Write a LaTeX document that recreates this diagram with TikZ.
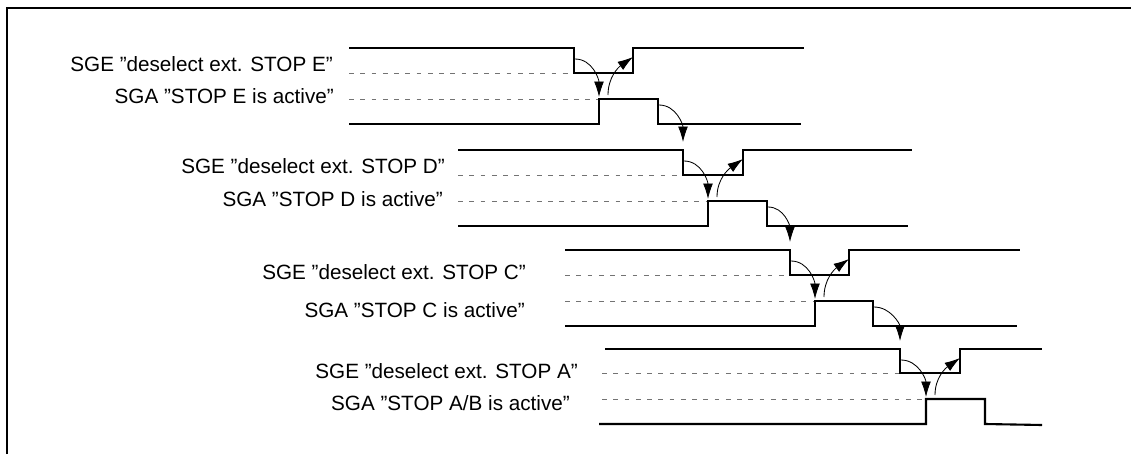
\documentclass[tikz,border=0pt]{standalone}
\usepackage{fontspec}
\setmainfont{Liberation Sans}
\usetikzlibrary{arrows.meta}

\tikzset{
  sig/.style = {line width=1.5pt, line join=miter},
  lvl/.style = {black!55, line width=0.7pt, dash pattern=on 3.5pt off 4.5pt},
  trig/.style = {line width=0.6pt, -{Latex[length=11pt,width=7pt]}},
  lbl/.style = {anchor=base east, inner sep=0pt, font=\fontsize{14.7}{18}\selectfont}
}

\begin{document}
\begin{tikzpicture}[x=0.025cm, y=-0.025cm]
\useasboundingbox (0,0) rectangle (1131,454);
\draw[line width=1.4pt] (7,454) -- (7,8) -- (1131,8);

% STOP E
\begin{scope}[shift={(574,48)}]
\path (-241,23) node[lbl] (sgeE) {SGE ”deselect ext. STOP E”};
\path (-240,55) node[lbl] (sgaE) {SGA ”STOP E is active”};
\draw[lvl] (-225,25) -- (0,25);
\draw[lvl] (-225,51) -- (25,51);
\draw[sig] (-225,0) -- (0,0) -- (0,25) -- (59,25) -- (59,0) -- (230,0);
\draw[sig] (-225,76) -- (25,76) -- (25,51) -- (84,51) -- (84,76) -- (227,76);
\coordinate (deselE) at (1,11);
\coordinate (actE) at (25,49);
\coordinate (ackE) at (34,47);
\coordinate (relE) at (59,9);
\coordinate (offE) at (85,57);
\end{scope}

% STOP D
\begin{scope}[shift={(683,150)}]
\path (-238,23) node[lbl] (sgeD) {SGE ”deselect ext. STOP D”};
\path (-240,56) node[lbl] (sgaD) {SGA ”STOP D is active”};
\draw[lvl] (-225,25) -- (0,25);
\draw[lvl] (-225,51) -- (25,51);
\draw[sig] (-225,0) -- (0,0) -- (0,25) -- (60,25) -- (60,0) -- (229,0);
\draw[sig] (-225,76) -- (25,76) -- (25,51) -- (84,51) -- (84,76) -- (225,76);
\coordinate (inD) at (0,-8);
\coordinate (deselD) at (1,11);
\coordinate (actD) at (25,49);
\coordinate (ackD) at (34,47);
\coordinate (relD) at (60,9);
\coordinate (offD) at (85,57);
\end{scope}

% STOP C
\begin{scope}[shift={(790,250)}]
\path (-264,29) node[lbl] (sgeC) {SGE ”deselect ext. STOP C”};
\path (-265,67) node[lbl] (sgaC) {SGA ”STOP C is active”};
\draw[lvl] (-225,25) -- (0,25);
\draw[lvl] (-225,51) -- (25,51);
\draw[sig] (-225,0) -- (0,0) -- (0,25) -- (59,25) -- (59,0) -- (230,0);
\draw[sig] (-225,76) -- (25,76) -- (25,51) -- (83,51) -- (83,76) -- (227,76);
\coordinate (inC) at (0,-8);
\coordinate (deselC) at (1,11);
\coordinate (actC) at (25,49);
\coordinate (ackC) at (34,47);
\coordinate (relC) at (59,9);
\coordinate (offC) at (84,57);
\end{scope}

% STOP A
\begin{scope}[shift={(900,349)}]
\path (-322,29) node[lbl] (sgeA) {SGE ”deselect ext. STOP A”};
\path (-330,61) node[lbl] (sgaA) {SGA ”STOP A/B is active”};
\draw[lvl] (-298,24) -- (0,24);
\draw[lvl] (-298,50) -- (26,50);
\draw[sig] (-295,0) -- (0,0) -- (0,24) -- (60,24) -- (60,0) -- (142,0);
\draw[sig] (-301,75) -- (26,75) -- (26,50) -- (85,50) -- (85,75) -- (142,76);
\coordinate (inA) at (0,-8);
\coordinate (deselA) at (1,11);
\coordinate (actA) at (26,48);
\coordinate (ackA) at (35,46);
\coordinate (relA) at (60,9);
\end{scope}

% handshakes
\draw[trig] (deselE) to[out=0,in=90] (actE);
\draw[trig] (ackE) to[out=90,in=215] (relE);
\draw[trig] (offE) to[out=0,in=90] (inD);
\draw[trig] (deselD) to[out=0,in=90] (actD);
\draw[trig] (ackD) to[out=90,in=215] (relD);
\draw[trig] (offD) to[out=0,in=90] (inC);
\draw[trig] (deselC) to[out=0,in=90] (actC);
\draw[trig] (ackC) to[out=90,in=215] (relC);
\draw[trig] (offC) to[out=0,in=90] (inA);
\draw[trig] (deselA) to[out=0,in=90] (actA);
\draw[trig] (ackA) to[out=90,in=215] (relA);
\end{tikzpicture}
\end{document}
